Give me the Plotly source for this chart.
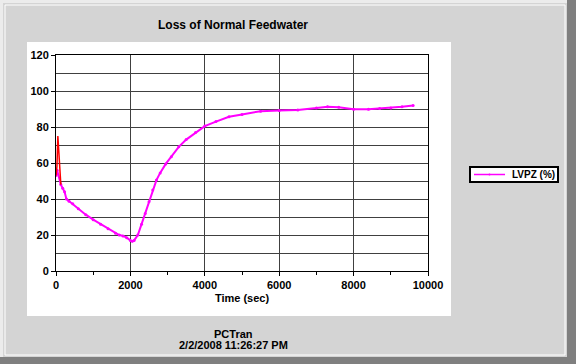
import plotly.graph_objects as go

# --- data ---
t_start = [0, 25, 50, 75, 100, 130]
v_start = [53, 58, 75, 66, 55, 48]

t_main = [0, 30, 130, 180, 230, 280, 350, 450, 600, 800, 1000, 1200, 1400, 1600,
          1700, 1800, 1900, 2000, 2050, 2100, 2200, 2300, 2400, 2500, 2600, 2700,
          2800, 2950, 3100, 3300, 3500, 3750, 4000, 4300, 4650, 5000, 5500, 6000,
          6500, 7000, 7300, 7600, 8000, 8400, 8700, 9000, 9300, 9600]
v_main = [53, 56, 48, 46, 44, 40, 38.8, 37.3, 34.6, 31.3, 28.5, 26, 23.5, 21,
          20, 19.5, 18.5, 17, 16.5, 17, 20, 26, 32, 38.5, 45, 50.5,
          54.5, 59.5, 63.5, 69, 73, 77, 80.5, 83, 85.7, 87, 88.8, 89.2,
          89.5, 90.5, 91.3, 91, 89.8, 89.8, 90.3, 90.5, 91.3, 92]

series_name = "LVPZ (%)"
title_text = "Loss of Normal Feedwater"
x_title = "Time (sec)"
footer_lines = ["PCTran", "2/2/2008 11:26:27 PM"]

W, H = 576, 364
L, R, T, B = 56, 428, 55, 271  # plot area pixel box


def X(px):
    return (px - L) / (R - L)


def Y(py):
    return (B - py) / (B - T)


FONT = "Liberation Sans, Arial, sans-serif"
PANEL = "#d4d4d4"
MAGENTA = "#ff00ff"

fig = go.Figure()
fig.add_trace(go.Scatter(
    x=t_main, y=v_main, mode="lines+markers", name=series_name, showlegend=False,
    line=dict(color=MAGENTA, width=2), marker=dict(color=MAGENTA, size=3),
))
fig.add_trace(go.Scatter(
    x=t_start, y=v_start, mode="lines", showlegend=False,
    line=dict(color="#ff0000", width=1.5),
))

shapes = []
# white inner chart area
shapes.append(dict(type="rect", xref="paper", yref="paper", layer="below",
                   x0=X(27), x1=X(451), y0=Y(316), y1=Y(42),
                   fillcolor="white", line=dict(width=0)))
# outer bevel: light top/left, dark bottom/right
shapes.append(dict(type="rect", xref="paper", yref="paper", layer="below",
                   x0=X(0), x1=X(3), y0=Y(364), y1=Y(0),
                   fillcolor="#ececec", line=dict(width=0)))
shapes.append(dict(type="rect", xref="paper", yref="paper", layer="below",
                   x0=X(0), x1=X(576), y0=Y(3), y1=Y(0),
                   fillcolor="#ececec", line=dict(width=0)))
shapes.append(dict(type="rect", xref="paper", yref="paper", layer="below",
                   x0=X(567), x1=X(576), y0=Y(364), y1=Y(0),
                   fillcolor="#7f7f7f", line=dict(width=0)))
shapes.append(dict(type="rect", xref="paper", yref="paper", layer="below",
                   x0=X(0), x1=X(576), y0=Y(364), y1=Y(357),
                   fillcolor="#7f7f7f", line=dict(width=0)))
# inner white bevel lines
for (x0, y0, x1, y1) in [(5, 5, 5, 355), (5, 5, 565, 5), (565, 5, 565, 355), (5, 355, 565, 355)]:
    shapes.append(dict(type="line", xref="paper", yref="paper", layer="below",
                       x0=X(x0), x1=X(x1), y0=Y(y0), y1=Y(y1),
                       line=dict(color="white", width=1)))

# legend box (drawn as shapes + text)
shapes.append(dict(type="rect", xref="paper", yref="paper",
                   x0=X(470), x1=X(558), y0=Y(182), y1=Y(167),
                   fillcolor="white", line=dict(color="black", width=2)))
shapes.append(dict(type="line", xref="paper", yref="paper",
                   x0=X(474), x1=X(505), y0=Y(174.5), y1=Y(174.5),
                   line=dict(color=MAGENTA, width=1.5)))
shapes.append(dict(type="circle", xref="paper", yref="paper",
                   x0=X(488.5), x1=X(490.5), y0=Y(175.5), y1=Y(173.5),
                   fillcolor=MAGENTA, line=dict(color=MAGENTA, width=0)))

annotations = [
    dict(text="<b>%s</b>" % title_text, xref="paper", yref="paper",
         x=X(233), y=Y(25), showarrow=False, xanchor="center", yanchor="middle",
         font=dict(family=FONT, size=12, color="black")),
    dict(text="<b>%s</b>" % footer_lines[0], xref="paper", yref="paper",
         x=X(233), y=Y(334), showarrow=False, xanchor="center", yanchor="middle",
         font=dict(family=FONT, size=11, color="black")),
    dict(text="<b>%s</b>" % footer_lines[1], xref="paper", yref="paper",
         x=X(233), y=Y(345), showarrow=False, xanchor="center", yanchor="middle",
         font=dict(family=FONT, size=11, color="black")),
    dict(text="<b>%s</b>" % series_name, xref="paper", yref="paper",
         x=X(511), y=Y(174.5), showarrow=False, xanchor="left", yanchor="middle",
         borderpad=0, font=dict(family=FONT, size=10, color="black")),
]

GRID = "#404040"
fig.update_layout(
    width=W, height=H,
    margin=dict(l=L, r=W - R, t=T, b=H - B, pad=0),
    paper_bgcolor=PANEL, plot_bgcolor="white",
    font=dict(family=FONT, size=11, color="black"),
    shapes=shapes, annotations=annotations,
    showlegend=False,
    xaxis=dict(range=[0, 10000], dtick=2000, tick0=0, tickformat="d",
               showgrid=True, gridcolor=GRID, gridwidth=1,
               showline=True, linecolor="black", linewidth=1, mirror=True,
               ticks="outside", ticklen=4, tickcolor="black",
               tickfont=dict(family=FONT, size=11, color="black", weight="bold"),
               minor=dict(dtick=1000, ticks="outside", ticklen=3, tickcolor="black", showgrid=False),
               title=dict(text="<b>%s</b>" % x_title, standoff=4,
                          font=dict(family=FONT, size=11, color="black")),
               zeroline=False, fixedrange=True),
    yaxis=dict(range=[0, 120], dtick=20, tick0=0,
               showgrid=True, gridcolor=GRID, gridwidth=1,
               showline=True, linecolor="black", linewidth=1, mirror=True,
               ticks="outside", ticklen=4, tickcolor="black",
               tickfont=dict(family=FONT, size=11, color="black", weight="bold"),
               minor=dict(dtick=10, showgrid=True, gridcolor=GRID, gridwidth=1, ticks=""),
               zeroline=False, fixedrange=True),
)

fig.write_html("out.html", config={"displayModeBar": False},
               post_script="document.body.style.margin='0';document.body.style.overflow='hidden';")
